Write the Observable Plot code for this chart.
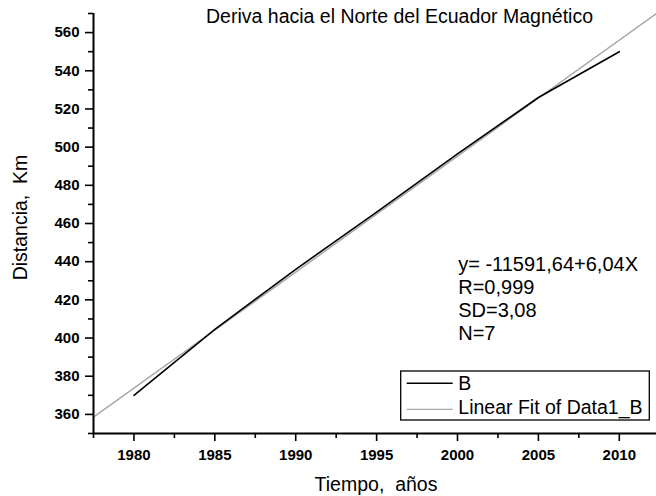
<!DOCTYPE html>
<html><head><meta charset="utf-8">
<script src="https://cdn.jsdelivr.net/npm/d3@7"></script>
<script src="https://cdn.jsdelivr.net/npm/@observablehq/plot@0.6"></script>
<style>body{margin:0;background:#fff} svg{display:block}</style>
</head><body><div id="chart"></div>
<script>
// ---- data ----
const years = [1980, 1985, 1990, 1995, 2000, 2005, 2010];
const distances = [370, 404.5, 436, 466, 496.5, 526, 550];
const fitYears = [1977.5, 2012.3];
const fitValues = [358.6, 570];
const xMajorTicks = [1980, 1985, 1990, 1995, 2000, 2005, 2010];
const xMinorTicks = [1977.5, 1982.5, 1987.5, 1992.5, 1997.5, 2002.5, 2007.5];
const yMajorTicks = [360, 380, 400, 420, 440, 460, 480, 500, 520, 540, 560];
const yMinorTicks = [350, 370, 390, 410, 430, 450, 470, 490, 510, 530, 550, 570];
const titleText = ["Deriva hacia el Norte del Ecuador Magnético"];
const xLabel = ["Tiempo,  años"];
const yLabel = ["Distancia,  Km"];
const annotationLines = ["y= -11591,64+6,04X", "R=0,999", "SD=3,08", "N=7"];
const legendLabels = ["B", "Linear Fit of Data1_B"];

const data = years.map((x, i) => ({x, y: distances[i]}));
const fit = fitYears.map((x, i) => ({x, y: fitValues[i]}));
const FONT = '"Liberation Sans", Arial, Helvetica, sans-serif';
const GRAY = "#a8a8a8";

const chart = Plot.plot({
  width: 656, height: 496,
  marginLeft: 93, marginRight: 0, marginTop: 13, marginBottom: 63,
  style: {fontFamily: FONT, background: "#fff", color: "#000"},
  x: {domain: [1977.5, 2012.3]},
  y: {domain: [350, 570]},
  marks: [
    Plot.line(fit, {x: "x", y: "y", stroke: GRAY, strokeWidth: 1.5, clip: true}),
    Plot.line(data, {x: "x", y: "y", stroke: "#000", strokeWidth: 1.6}),
    Plot.ruleX([1977.5], {stroke: "#000", strokeWidth: 2}),
    Plot.ruleY([350], {stroke: "#000", strokeWidth: 2}),
    Plot.axisY({ticks: yMajorTicks, tickSize: 8, tickPadding: 6, fontSize: 15, fontWeight: "bold", strokeWidth: 1.6, label: null}),
    Plot.axisY({ticks: yMinorTicks, tickSize: 5, tickFormat: () => "", strokeWidth: 1.6, label: null}),
    Plot.axisX({ticks: xMajorTicks, tickSize: 8, tickPadding: 8, tickFormat: "d", fontSize: 15, fontWeight: "bold", strokeWidth: 1.6, label: null}),
    Plot.axisX({ticks: xMinorTicks, tickSize: 5, tickFormat: () => "", strokeWidth: 1.6, label: null}),
    Plot.text(titleText, {text: d => d, frameAnchor: "top", textAnchor: "middle", lineAnchor: "top", dx: 24.5, dy: -3.9, fontSize: 19.5}),
    Plot.text(xLabel, {text: d => d, frameAnchor: "bottom", textAnchor: "middle", lineAnchor: "top", dx: 1, dy: 43.2, fontSize: 19.5}),
    Plot.text(yLabel, {text: d => d, frameAnchor: "left", textAnchor: "middle", lineAnchor: "top", rotate: -90, dx: -80.8, dy: -6, fontSize: 19.5}),
    Plot.text([annotationLines.join("\n")], {text: d => d, frameAnchor: "top-left", textAnchor: "start", lineAnchor: "top", lineHeight: 1.15, dx: 364.7, dy: 241.1, fontSize: 20})
  ]
});
document.getElementById("chart").appendChild(chart);

// legend box
const svg = d3.select(chart);
const lg = svg.append("g").attr("font-family", FONT).attr("font-size", 19.5).attr("text-anchor", "start");
lg.append("rect").attr("x", 400.7).attr("y", 371).attr("width", 248.6).attr("height", 49)
  .attr("fill", "#fff").attr("stroke", "#000").attr("stroke-width", 1.3);
const legendStyles = [{stroke: "#000", width: 1.5, y: 383.3, base: 389.5}, {stroke: GRAY, width: 1.2, y: 409.3, base: 414.3}];
legendLabels.forEach((label, i) => {
  const s = legendStyles[i];
  lg.append("line").attr("x1", 406.7).attr("x2", 452.7).attr("y1", s.y).attr("y2", s.y)
    .attr("stroke", s.stroke).attr("stroke-width", s.width);
  lg.append("text").attr("x", 458.3).attr("y", s.base).attr("text-anchor", "start").text(label);
});
</script>
</body></html>
